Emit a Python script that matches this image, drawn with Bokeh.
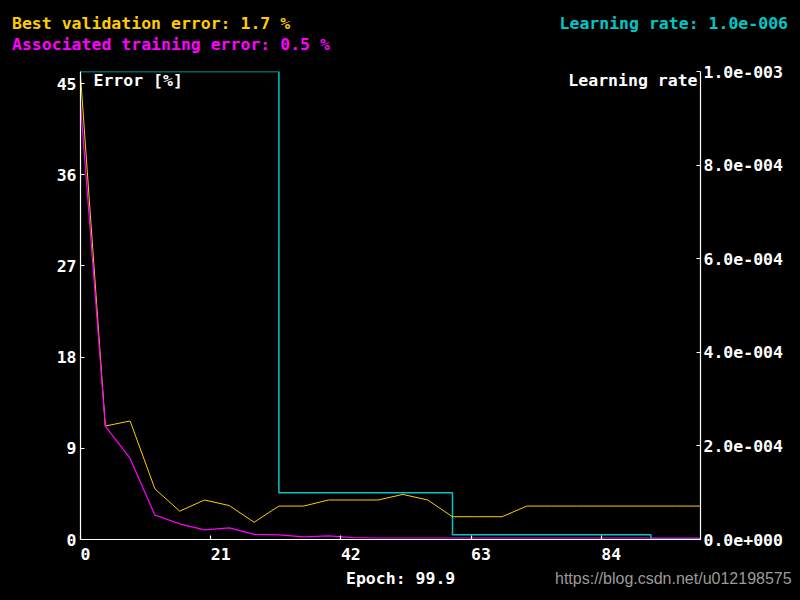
from bokeh.plotting import figure
from bokeh.layouts import column
from bokeh.models import Range1d, LinearAxis, FixedTicker, CustomJSTickFormatter, Label, Div
from bokeh.embed import file_html
from bokeh.resources import INLINE

# ---- data ----
epochs = [0, 4, 8, 12, 16, 20, 24, 28, 32, 36, 40, 44, 48, 52, 56, 60, 64, 68, 72,
          76, 80, 84, 88, 92, 96, 100]
val_err = [45.8, 11.2, 11.7, 5.0, 2.8, 3.9, 3.35, 1.7, 3.3, 3.3, 3.9, 3.9, 3.9, 4.45,
           3.9, 2.25, 2.25, 2.25, 3.3, 3.3, 3.3, 3.3, 3.3, 3.3, 3.3, 3.3]
train_err = [43.0, 11.2, 8.0, 2.4, 1.55, 0.95, 1.15, 0.5, 0.45, 0.25, 0.35, 0.18, 0.15,
             0.15, 0.15, 0.15, 0.15, 0.15, 0.15, 0.15, 0.15, 0.15, 0.15, 0.15, 0.15, 0.15]
lr_epochs = [0, 32, 60, 92, 100]
lr_values = [1e-3, 1e-4, 1e-5, 1e-6, 1e-6]
err_ticks = [0, 9, 18, 27, 36, 45]
lr_ticks = [0, 2e-4, 4e-4, 6e-4, 8e-4, 1e-3]
epoch_ticks = [0, 21, 42, 63, 84]
best_val = "Best validation error: 1.7 %"
assoc_train = "Associated training error: 0.5 %"
lr_now = "Learning rate: 1.0e-006"
epoch_now = "Epoch: 99.9"
credit = "https://blog.csdn.net/u012198575"

FONT = "DejaVu Sans Mono"
FS = "16.5px"
GOLD = "#FFCC00"
MAG = "#FF00FF"
CYAN = "#00C8C8"
BG = "black"


def span(text, color, left=None, right=None, top=0, font=FONT, weight="bold", size=FS):
    pos = f"left:{left}px;" if left is not None else f"right:{right}px;"
    return (f'<span style="position:absolute;{pos}top:{top}px;color:{color};'
            f"font-family:'{font}';font-weight:{weight};font-size:{size};"
            f'line-height:20px;white-space:pre;">{text}</span>')


def box(h, inner):
    return (f'<div style="position:relative;width:800px;height:{h}px;'
            f'background:{BG};margin:0;padding:0;overflow:hidden;">{inner}</div>')


# ---- header (texts above the chart) ----
header = Div(text=box(60, span(best_val, GOLD, left=12, top=14)
                      + span(assoc_train, MAG, left=12, top=35)
                      + span(lr_now, CYAN, right=12, top=14)),
             width=800, height=60, margin=0, styles={"background-color": BG})

# ---- main chart ----
p = figure(width=800, height=506, output_backend="svg", toolbar_location=None,
           x_range=Range1d(0, 100), y_range=Range1d(0, 46.2),
           min_border_left=80, min_border_right=100, min_border_top=11, min_border_bottom=26,
           background_fill_color=BG, border_fill_color=BG, margin=0,
           styles={"background-color": BG})
p.outline_line_color = None
p.grid.visible = False
p.extra_y_ranges = {"lr": Range1d(0, 1e-3)}


def style(ax):
    ax.axis_line_color = "white"
    ax.axis_line_width = 1.2
    ax.major_tick_line_color = "white"
    ax.major_tick_line_width = 1.2
    ax.minor_tick_line_color = None
    ax.major_label_text_color = "white"
    ax.major_label_text_font = FONT
    ax.major_label_text_font_style = "bold"
    ax.major_label_text_font_size = FS


xa = p.xaxis[0]
style(xa)
xa.ticker = FixedTicker(ticks=epoch_ticks)
xa.major_tick_in = 4
xa.major_tick_out = 0
xa.major_label_standoff = 5
# labels start at their tick (left aligned look): pad with no-break spaces
xa.major_label_overrides = {t: "\u00a0" * len(str(t)) + str(t) for t in epoch_ticks}

ya = p.yaxis[0]
style(ya)
ya.ticker = FixedTicker(ticks=err_ticks)
ya.major_tick_in = 4
ya.major_tick_out = 0
ya.major_label_standoff = 4

ra = LinearAxis(y_range_name="lr")
style(ra)
ra.ticker = FixedTicker(ticks=lr_ticks)
ra.major_tick_in = 4
ra.major_tick_out = 0
ra.major_label_standoff = 3
ra.formatter = CustomJSTickFormatter(code="""
const s = tick.toExponential(1);
const parts = s.split("e");
const sign = parts[1][0];
const digits = parts[1].slice(1).padStart(3, "0");
return parts[0] + "e" + sign + digits;
""")
p.add_layout(ra, "right")

p.step(lr_epochs, lr_values, mode="after", line_color=CYAN, line_width=1.5, y_range_name="lr")
p.line(epochs, val_err, line_color=GOLD, line_width=1)
p.line(epochs, train_err, line_color=MAG, line_width=1.2)

# in-frame labels (relative to frame left / bottom)
for text, x, align in [("Error [%]", 13, "left"), ("Learning rate", 617, "right")]:
    p.add_layout(Label(x=x, y=459, x_units="screen", y_units="screen", text=text,
                       text_color="white", text_font=FONT, text_font_style="bold",
                       text_font_size=FS, text_align=align, text_baseline="middle"))

# ---- footer (texts below the chart) ----
footer = Div(text=box(34, span(epoch_now, "white", left=346, top=3)
                      + span(credit, "#9a9a9a", left=555, top=3, font="Liberation Sans",
                             weight="normal", size="16px")),
             width=800, height=34, margin=0, styles={"background-color": BG})

layout = column(header, p, footer, spacing=0, margin=0, styles={"background-color": BG})
html = file_html(layout, INLINE)
html = html.replace("<body>", '<body style="background-color:black;">', 1)
open("out.html", "w").write(html)
